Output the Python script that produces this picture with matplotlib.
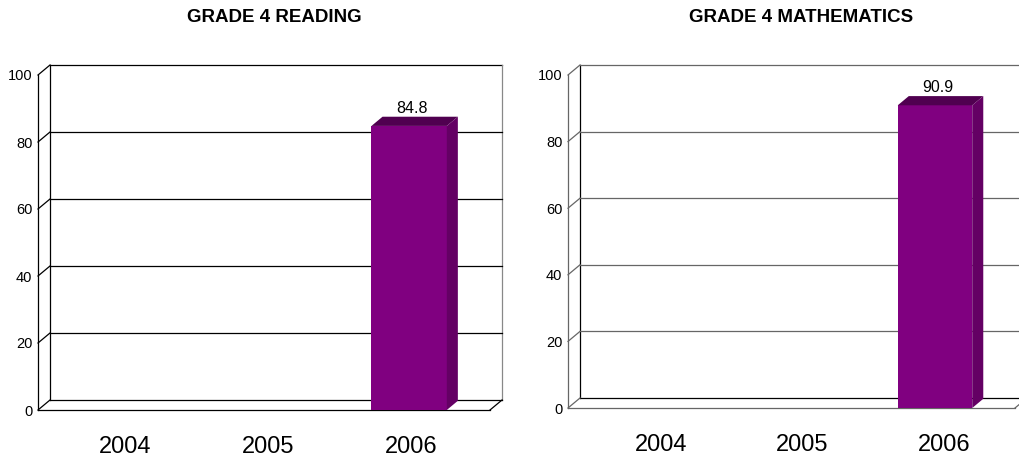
import numpy as np
import matplotlib.pyplot as plt
from matplotlib.patches import Rectangle

plt.rcParams['font.family'] = ['Liberation Sans', 'DejaVu Sans']

# data
years = ['2004', '2005', '2006']
reading = [np.nan, np.nan, 84.8]
math = [np.nan, np.nan, 90.9]
titles = ['GRADE 4 READING', 'GRADE 4 MATHEMATICS']
y_ticks = [0, 20, 40, 60, 80, 100]

W, H = 1020, 457
fig = plt.figure(figsize=(W / 100, H / 100), dpi=100, facecolor='white')

# pseudo 3-D depth of the walls, in pixels
DEPTH_PX = (12, 10)
BAR_FRONT = '#800080'
BAR_TOP = '#500050'
BAR_SIDE = '#640064'


def draw_panel(front_px, values, title, title_x, front_col, lab_shift):
    x0, x1, yb, yt = front_px
    ax = fig.add_axes([x0 / W, 1 - yb / H, (x1 - x0) / W, (yb - yt) / H])
    ax.set_xlim(-0.5, len(years) - 0.5)
    ax.set_ylim(0, 100)
    ax.patch.set_alpha(0)

    dx = DEPTH_PX[0] / (x1 - x0) * len(years)
    dy = DEPTH_PX[1] / (yb - yt) * 100
    xa, xb = -0.5, len(years) - 0.5
    lw = 0.9

    # back wall frame
    ax.plot([xa + dx, xa + dx], [dy, 100 + dy], color='black', lw=lw, clip_on=False)
    ax.plot([xa + dx, xb + dx], [100 + dy, 100 + dy], color=front_col, lw=lw, clip_on=False)
    ax.plot([xb + dx, xb + dx], [dy, 100 + dy], color='#888888', lw=lw, clip_on=False)
    ax.plot([xa + dx, xb + dx], [dy, dy], color='black', lw=lw, clip_on=False)
    # gridlines on back wall + diagonals to the front axis
    for v in y_ticks:
        if 0 < v < 100:
            ax.plot([xa + dx, xb + dx], [v + dy, v + dy], color=front_col, lw=lw, clip_on=False)
        ax.plot([xa, xa + dx], [v, v + dy], color=front_col, lw=lw, clip_on=False)
    # floor right edge
    ax.plot([xb, xb + dx], [0, dy], color=front_col, lw=lw, clip_on=False)

    for s in ['top', 'right']:
        ax.spines[s].set_visible(False)
    for s in ['left', 'bottom']:
        ax.spines[s].set_color(front_col)
        ax.spines[s].set_linewidth(lw)

    ax.set_yticks(y_ticks)
    ax.set_yticklabels([str(t) for t in y_ticks], fontsize=10.5)
    # category labels sit slightly closer together (perspective), mid-depth
    mid = (len(years) - 1) / 2
    ax.set_xticks(mid + (np.arange(len(years)) - mid) * 0.95 + dx * lab_shift)
    ax.set_xticklabels(years, fontsize=17)
    ax.tick_params(axis='y', length=0, pad=4)
    ax.tick_params(axis='x', length=0, pad=19)

    # bars
    w, bd = 0.5, 0.92
    for i, v in enumerate(values):
        if np.isnan(v):
            continue
        xl = i - w / 2 - dx * bd / 2
        xr = xl + w
        ax.add_patch(Rectangle((xl, 0), w, v, facecolor=BAR_FRONT, edgecolor='none',
                               zorder=5, clip_on=False))
        ax.fill([xl, xr, xr + dx * bd, xl + dx * bd], [v, v, v + dy * bd, v + dy * bd],
                color=BAR_TOP, lw=0, zorder=5, clip_on=False)
        ax.fill([xr, xr + dx * bd, xr + dx * bd, xr], [0, dy * bd, v + dy * bd, v],
                color=BAR_SIDE, lw=0, zorder=5, clip_on=False)
        ax.annotate(f'{v:.1f}', (xl + w / 2 + dx * bd / 4, v + dy * bd), xytext=(0, 3),
                    textcoords='offset points', ha='center', va='baseline',
                    fontsize=11.5, zorder=6)

    fig.text(title_x / W, 1 - 18 / H, title, ha='center', va='center',
             fontsize=13.5, fontweight='bold')
    return ax


draw_panel((38, 490, 410, 75), reading, titles[0], 274, 'black', 0.35)
draw_panel((568, 1015, 408, 75), math, titles[1], 801, '#666666', 0.9)

fig.savefig('out.png', dpi=100, facecolor='white')
